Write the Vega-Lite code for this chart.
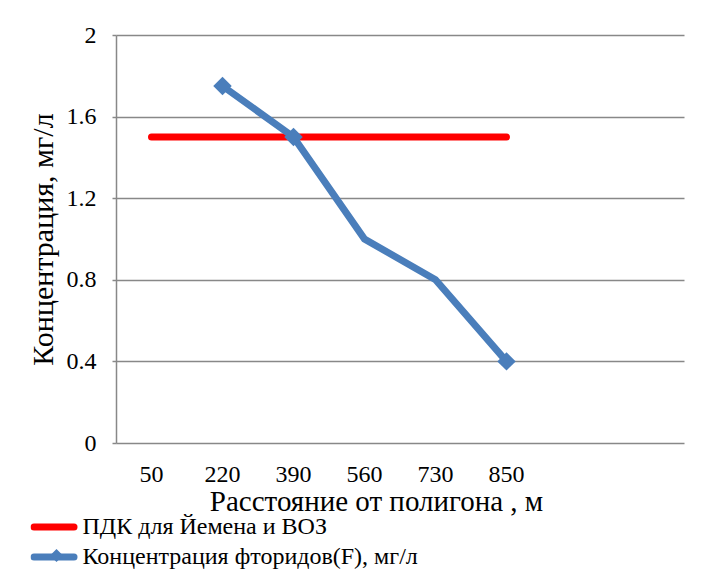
{
  "$schema": "https://vega.github.io/schema/vega-lite/v6.json",
  "autosize": "none",
  "width": 568,
  "height": 408,
  "padding": {"left": 116, "top": 35, "right": 28, "bottom": 140},
  "background": "white",
  "config": {
    "font": "Liberation Serif",
    "view": {"stroke": null}
  },
  "data": {
    "values": [
      {"distance": 50, "series": "ПДК для Йемена и ВОЗ", "value": 1.5},
      {"distance": 220, "series": "ПДК для Йемена и ВОЗ", "value": 1.5},
      {"distance": 390, "series": "ПДК для Йемена и ВОЗ", "value": 1.5},
      {"distance": 560, "series": "ПДК для Йемена и ВОЗ", "value": 1.5},
      {"distance": 730, "series": "ПДК для Йемена и ВОЗ", "value": 1.5},
      {"distance": 850, "series": "ПДК для Йемена и ВОЗ", "value": 1.5},
      {"distance": 220, "series": "Концентрация фторидов(F), мг/л", "value": 1.75},
      {"distance": 390, "series": "Концентрация фторидов(F), мг/л", "value": 1.5},
      {"distance": 560, "series": "Концентрация фторидов(F), мг/л", "value": 1.0},
      {"distance": 730, "series": "Концентрация фторидов(F), мг/л", "value": 0.8},
      {"distance": 850, "series": "Концентрация фторидов(F), мг/л", "value": 0.4}
    ]
  },
  "encoding": {
    "x": {
      "field": "distance",
      "type": "ordinal",
      "scale": {"type": "band", "domain": [50, 220, 390, 560, 730, 850], "paddingInner": 0, "paddingOuter": 1, "align": 0},
      "axis": {
        "title": "Расстояние от полигона , м",
        "titleFontSize": 29,
        "titleFontWeight": "normal",
        "titleColor": "black",
        "titlePadding": 1,
        "titleX": 260,
        "titleAnchor": "middle",
        "labelFontSize": 24,
        "labelColor": "black",
        "labelPadding": 19,
        "labelAngle": 0,
        "domain": false,
        "ticks": false,
        "grid": false
      }
    },
    "y": {
      "field": "value",
      "type": "quantitative",
      "scale": {"domain": [0, 2], "nice": false},
      "axis": {
        "title": "Концентрация,  мг/л",
        "titleFontSize": 30,
        "titleFontWeight": "normal",
        "titleColor": "black",
        "titlePadding": 8,
        "values": [0, 0.4, 0.8, 1.2, 1.6, 2],
        "labelExpr": "datum.value == 0 ? '0' : format(datum.value, '.1~f')",
        "labelFontSize": 24,
        "labelColor": "black",
        "labelPadding": 16,
        "ticks": true,
        "tickSize": 4,
        "tickColor": "#888888",
        "tickWidth": 1.5,
        "domain": true,
        "domainColor": "#888888",
        "domainWidth": 1.5,
        "grid": true,
        "gridColor": "#888888",
        "gridWidth": 1.5
      }
    }
  },
  "layer": [
    {
      "mark": {"type": "line", "strokeWidth": 7, "strokeCap": "round"},
      "encoding": {
        "color": {
          "field": "series",
          "type": "nominal",
          "sort": null,
          "scale": {
            "domain": ["ПДК для Йемена и ВОЗ", "Концентрация фторидов(F), мг/л"],
            "range": ["#FF0000", "#4A7EBB"]
          },
          "legend": {
            "title": null,
            "orient": "none",
            "legendX": -85.5,
            "legendY": 480,
            "padding": 0,
            "symbolType": "stroke",
            "symbolSize": 1600,
            "symbolStrokeWidth": 7,
            "clipHeight": 24,
            "labelFontSize": 24,
            "labelColor": "black",
            "labelOffset": 5,
            "rowPadding": 6,
            "labelLimit": 500,
            "encode": {"symbols": {"update": {"strokeCap": {"value": "round"}}}}
          }
        }
      }
    },
    {
      "transform": [
        {"filter": "datum.series == 'Концентрация фторидов(F), мг/л' && (datum.distance == 220 || datum.distance == 390 || datum.distance == 850)"}
      ],
      "mark": {"type": "point", "size": 340, "filled": true, "opacity": 1, "color": "#4A7EBB"},
      "encoding": {
        "shape": {
          "field": "series",
          "type": "nominal",
          "scale": {"domain": ["Концентрация фторидов(F), мг/л"], "range": ["diamond"]},
          "legend": {
            "title": null,
            "orient": "none",
            "legendX": -71.5,
            "legendY": 508.5,
            "padding": 0,
            "symbolSize": 170,
            "symbolFillColor": "#4A7EBB",
            "symbolStrokeColor": "#4A7EBB",
            "symbolStrokeWidth": 0,
            "clipHeight": 24,
            "labelExpr": "''",
            "labelFontSize": 24
          }
        }
      }
    }
  ]
}
